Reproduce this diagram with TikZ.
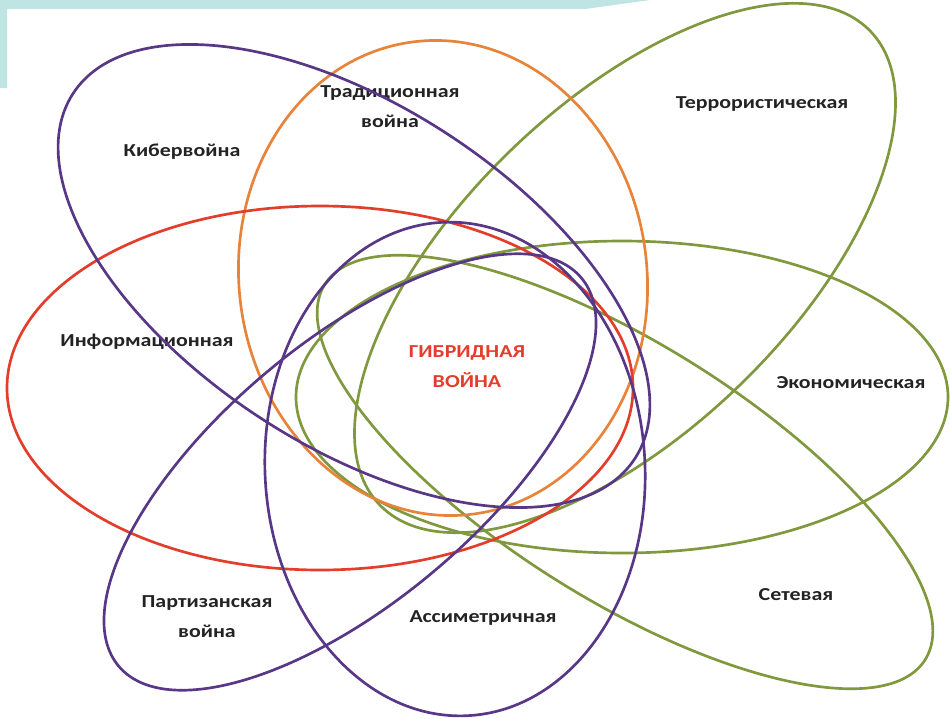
\documentclass[tikz,border=0pt]{standalone}
\usepackage{fontspec}
\setmainfont[FakeStretch=1.2]{Carlito}
\usetikzlibrary{positioning}

\definecolor{bannercyan}{RGB}{190,228,228}
\definecolor{hybred}{RGB}{226,62,43}
\definecolor{tradorange}{RGB}{232,131,58}
\definecolor{warpurple}{RGB}{88,55,135}
\definecolor{wargreen}{RGB}{128,152,62}
\definecolor{labelgray}{RGB}{35,35,35}

\begin{document}
\begin{tikzpicture}[
      x=0.75pt, y=-0.75pt,
      ring/.style = {line width=2pt},
      warlabel/.style = {font=\bfseries\fontsize{13.7}{22.5}\selectfont,
                         text=labelgray, align=center, inner sep=0pt},
      hybrid/.style = {warlabel, text=hybred}
    ]
    \useasboundingbox (0,0) rectangle (950,718);
    \fill[white] (0,0) rectangle (950,718);
    \fill[bannercyan] (0,0) -- (650,0) -- (585,9) -- (7,9) -- (7,88) -- (0,88) -- cycle;

    % Nodes
    \node[hybrid]   (hybrid)  at (467,367) {ГИБРИДНАЯ\\ВОЙНА};
    \node[warlabel] (cyber)   at (182,152) {Кибервойна};
    \node[warlabel] (trad)    at (390,107) {Традиционная\\война};
    \node[warlabel] (terror)  at (762,104) {Террористическая};
    \node[warlabel] (info)    at (147,342) {Информационная};
    \node[warlabel] (econ)    at (851,383) {Экономическая};
    \node[warlabel] (net)     at (796,595) {Сетевая};
    \node[warlabel] (partisan) at (207,617) {Партизанская\\война};
    \node[warlabel] (asym)    at (483,618) {Ассиметричная};

    % Ellipses
    \draw[ring, wargreen, rotate around={44:(625,268)}] (625,268) ellipse [x radius=341, y radius=164];
    \draw[ring, wargreen] (622,397) ellipse [x radius=326, y radius=156];
    \draw[ring, wargreen, rotate around={-32:(625,472)}] (625,472) ellipse [x radius=354, y radius=128];
    \draw[ring, tradorange, rotate around={7:(443,278)}] (443,278) ellipse [x radius=204, y radius=238];
    \draw[ring, hybred] (320,388) ellipse [x radius=313, y radius=182];
    \draw[ring, warpurple, rotate around={-33:(354,276)}] (354,276) ellipse [x radius=335, y radius=170];
    \draw[ring, warpurple, rotate around={40:(350,472)}] (350,472) ellipse [x radius=302, y radius=130];
    \draw[ring, warpurple, rotate around={3:(455,469)}] (455,469) ellipse [x radius=190, y radius=247];
  \end{tikzpicture}
\end{document}
